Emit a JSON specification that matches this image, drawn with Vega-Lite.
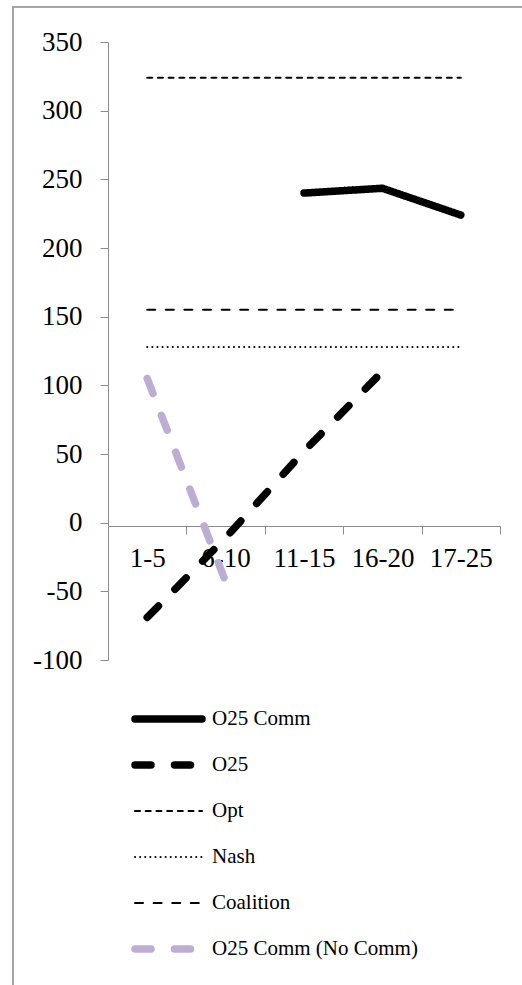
{
  "$schema": "https://vega.github.io/schema/vega-lite/v6.json",
  "autosize": {"type": "none"},
  "padding": {"left": 13, "top": 7, "right": -3, "bottom": -3},
  "width": 512,
  "height": 981,
  "config": {
    "view": {"stroke": "#a6a6a6", "strokeWidth": 2},
    "font": "Liberation Serif"
  },
  "data": {
    "values": [
      {"period": "1-5", "series": "Opt", "value": 324},
      {"period": "6-10", "series": "Opt", "value": 324},
      {"period": "11-15", "series": "Opt", "value": 324},
      {"period": "16-20", "series": "Opt", "value": 324},
      {"period": "17-25", "series": "Opt", "value": 324},
      {"period": "1-5", "series": "Coalition", "value": 155},
      {"period": "6-10", "series": "Coalition", "value": 155},
      {"period": "11-15", "series": "Coalition", "value": 155},
      {"period": "16-20", "series": "Coalition", "value": 155},
      {"period": "17-25", "series": "Coalition", "value": 155},
      {"period": "1-5", "series": "Nash", "value": 128},
      {"period": "6-10", "series": "Nash", "value": 128},
      {"period": "11-15", "series": "Nash", "value": 128},
      {"period": "16-20", "series": "Nash", "value": 128},
      {"period": "17-25", "series": "Nash", "value": 128},
      {"period": "11-15", "series": "O25 Comm", "value": 240},
      {"period": "16-20", "series": "O25 Comm", "value": 243.5},
      {"period": "17-25", "series": "O25 Comm", "value": 224},
      {"period": "1-5", "series": "O25", "value": -69},
      {"period": "6-10", "series": "O25", "value": -11},
      {"period": "11-15", "series": "O25", "value": 52},
      {"period": "16-20", "series": "O25", "value": 110},
      {"period": "1-5", "series": "O25 Comm (No Comm)", "value": 105},
      {"period": "6-10", "series": "O25 Comm (No Comm)", "value": -43}
    ]
  },
  "mark": {"type": "line", "strokeCap": "round"},
  "encoding": {
    "x": {
      "field": "period",
      "type": "nominal",
      "scale": {
        "type": "band",
        "domain": ["1-5", "6-10", "11-15", "16-20", "17-25"],
        "range": [95, 487],
        "paddingInner": 0,
        "paddingOuter": 0
      },
      "axis": {
        "title": null,
        "orient": "bottom",
        "offset": -462,
        "labelAngle": 0,
        "tickBand": "extent",
        "tickSize": 8,
        "labelPadding": 11,
        "labelFont": "Liberation Serif",
        "labelFontSize": 27,
        "labelColor": "#000000",
        "domainColor": "#8c8c8c",
        "tickColor": "#8c8c8c",
        "grid": false
      }
    },
    "y": {
      "field": "value",
      "type": "quantitative",
      "scale": {"domain": [-100, 350], "range": [653, 35], "nice": false, "zero": false},
      "axis": {
        "title": null,
        "offset": -95,
        "values": [-100, -50, 0, 50, 100, 150, 200, 250, 300, 350],
        "labelExpr": "'' + datum.value",
        "tickSize": 8,
        "labelPadding": 18,
        "labelFont": "Liberation Serif",
        "labelFontSize": 27,
        "labelColor": "#000000",
        "domainColor": "#8c8c8c",
        "tickColor": "#8c8c8c",
        "grid": false
      }
    },
    "color": {
      "field": "series",
      "type": "nominal",
      "scale": {
        "domain": ["O25 Comm", "O25", "Opt", "Nash", "Coalition", "O25 Comm (No Comm)"],
        "range": ["#000000", "#000000", "#000000", "#000000", "#000000", "#bdadd3"]
      },
      "legend": {
        "title": null,
        "orient": "none",
        "legendX": 100,
        "legendY": 701.5,
        "direction": "vertical",
        "padding": 0,
        "gridAlign": "all",
        "symbolType": "M-6.7,0H6.7",
        "symbolSize": 100,
        "symbolOffset": 45,
        "labelOffset": 33,
        "rowPadding": 15,
        "labelFont": "Liberation Serif",
        "labelFontSize": 21,
        "labelColor": "#000000",
        "labelLimit": 400,
        "encoding": {
          "symbols": {
            "strokeCap": {"value": "round"},
            "strokeDash": {"value": {"expr": "datum.value === 'O25 Comm' ? [1, 0] : datum.value === 'Opt' ? [5, 5.7] : datum.value === 'Nash' ? [0.1, 5] : datum.value === 'Coalition' ? [8, 10.6] : [14, 17.5]"}}
          }
        }
      }
    },
    "strokeDash": {
      "field": "series",
      "type": "nominal",
      "scale": {
        "domain": ["O25 Comm", "O25", "Opt", "Nash", "Coalition", "O25 Comm (No Comm)"],
        "range": [[1, 0], [16, 23.5], [5, 5.7], [0.1, 5], [8, 10.6], [16, 23.5]]
      }
    },
    "strokeWidth": {
      "field": "series",
      "type": "nominal",
      "scale": {
        "type": "ordinal",
        "domain": ["O25 Comm", "O25", "Opt", "Nash", "Coalition", "O25 Comm (No Comm)"],
        "range": [7.5, 7.5, 2, 2, 2, 7.5]
      }
    }
  }
}
